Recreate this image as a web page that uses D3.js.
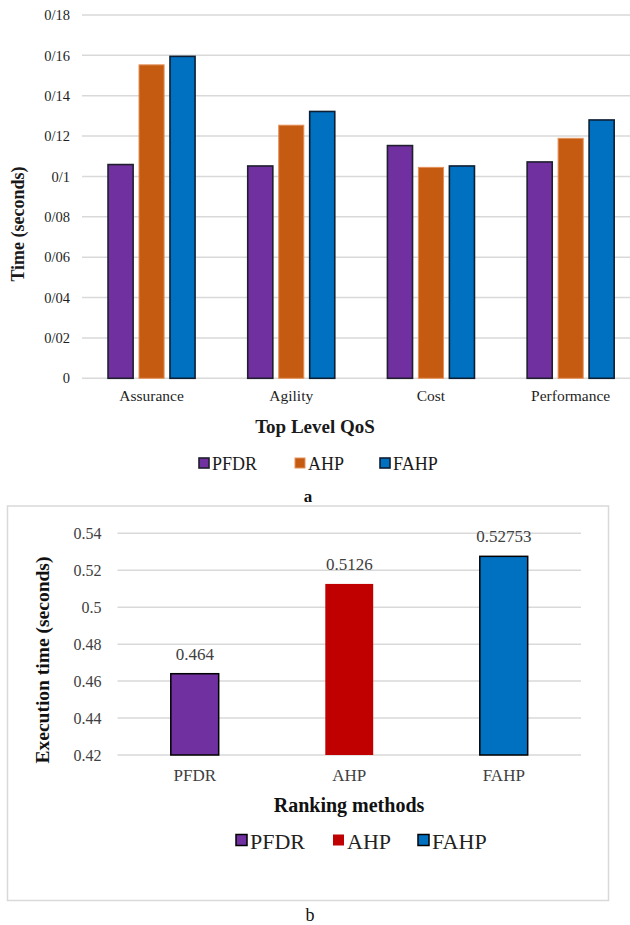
<!DOCTYPE html>
<html>
<head>
<meta charset="utf-8">
<script src="https://cdn.jsdelivr.net/npm/d3@7"></script>
<style>
  html, body { margin: 0; padding: 0; background: #fff; }
  svg { display: block; }
  svg text { font-family: "Liberation Serif", Tinos, "Times New Roman", Times, "DejaVu Serif", serif !important; }
</style>
</head>
<body>
<svg id="chart" width="630" height="925"></svg>
<script>
// ---- Panel a: time per top-level QoS attribute ----
const qosCategories = ["Assurance", "Agility", "Cost", "Performance"];
const methodsA = ["PFDR", "AHP", "FAHP"];
const pfdrTimes = [0.1059, 0.1052, 0.1153, 0.1072];
const ahpTimes = [0.1553, 0.1254, 0.1045, 0.1189];
const fahpTimes = [0.1595, 0.1322, 0.1052, 0.1280];
const tickValuesA = [0, 0.02, 0.04, 0.06, 0.08, 0.1, 0.12, 0.14, 0.16, 0.18];
const tickLabelsA = ["0", "0/02", "0/04", "0/06", "0/08", "0/1", "0/12", "0/14", "0/16", "0/18"];

// ---- Panel b: total execution time per ranking method ----
const rankingMethods = ["PFDR", "AHP", "FAHP"];
const executionTimes = [0.464, 0.5126, 0.52753];
const valueLabelsB = ["0.464", "0.5126", "0.52753"];
const tickValuesB = [0.42, 0.44, 0.46, 0.48, 0.5, 0.52, 0.54];
const tickLabelsB = ["0.42", "0.44", "0.46", "0.48", "0.5", "0.52", "0.54"];

const SERIF = "Liberation Serif, Tinos, Times New Roman, Times, DejaVu Serif, serif";
const svg = d3.select("#chart");
const grid = "#d9d9d9";

// ================= Panel a =================
const seriesA = [pfdrTimes, ahpTimes, fahpTimes];
const fillA = d3.scaleOrdinal(methodsA, ["#7030A0", "#C55A11", "#0070C0"]);
const strokeA = d3.scaleOrdinal(methodsA, ["#1f1f2e", "#E3915A", "#0d1f33"]);
const strokeWA = d3.scaleOrdinal(methodsA, [1.6, 1, 1.6]);

const yA = d3.scaleLinear().domain([0, 0.18]).range([378.3, 15]);
const x0A = d3.scaleBand().domain(qosCategories).range([81.7, 640.5])
  .paddingInner(0.377).paddingOuter(0.1885);
const x1A = d3.scaleBand().domain(methodsA).range([0, x0A.bandwidth()]).paddingInner(0.19);

const gA = svg.append("g").attr("font-family", SERIF);

// horizontal gridlines
gA.append("g").selectAll("line").data(tickValuesA).join("line")
  .attr("x1", 82).attr("x2", 630)
  .attr("y1", d => yA(d)).attr("y2", d => yA(d))
  .attr("stroke", grid).attr("stroke-width", 1.5);

// tick labels
const axisA = d3.axisLeft(yA).tickValues(tickValuesA)
  .tickFormat((d, i) => tickLabelsA[i]).tickSize(0).tickPadding(12);
const axA = gA.append("g").attr("transform", "translate(82,0)").call(axisA)
  .attr("font-family", SERIF);
axA.select(".domain").remove();
axA.selectAll("text").attr("font-size", 14.5).attr("fill", "#1f1f1f");

// grouped bars
const groups = gA.append("g").selectAll("g").data(qosCategories).join("g")
  .attr("transform", d => `translate(${x0A(d)},0)`);
groups.selectAll("rect")
  .data((c, ci) => methodsA.map((m, mi) => ({ m, v: seriesA[mi][ci] })))
  .join("rect")
  .attr("x", d => x1A(d.m))
  .attr("y", d => yA(d.v))
  .attr("width", x1A.bandwidth())
  .attr("height", d => yA(0) - yA(d.v))
  .attr("fill", d => fillA(d.m))
  .attr("stroke", d => strokeA(d.m))
  .attr("stroke-width", d => strokeWA(d.m));

// category labels
const xAxisA = d3.axisBottom(x0A).tickSize(0).tickPadding(12);
const axXA = gA.append("g").attr("transform", "translate(0,378.3)").call(xAxisA)
  .attr("font-family", SERIF);
axXA.select(".domain").remove();
axXA.selectAll("text").attr("font-size", 15.5).attr("fill", "#1f1f1f");

// axis titles
gA.append("text").attr("x", 315).attr("y", 433)
  .attr("text-anchor", "middle").attr("font-weight", "bold").attr("font-size", 19)
  .attr("fill", "#1a1a1a").text("Top Level QoS");
gA.append("text").attr("transform", "translate(24,224) rotate(-90)")
  .attr("text-anchor", "middle").attr("font-weight", "bold").attr("font-size", 18)
  .attr("fill", "#1a1a1a").text("Time (seconds)");

// legend
const legendPosA = [199, 295, 380];
methodsA.forEach((m, i) => {
  const lg = gA.append("g").attr("transform", `translate(${legendPosA[i]},458)`);
  lg.append("rect").attr("width", 10).attr("height", 10)
    .attr("fill", fillA(m)).attr("stroke", strokeA(m)).attr("stroke-width", strokeWA(m));
  lg.append("text").attr("x", 13).attr("y", 11.5).attr("font-size", 18)
    .attr("fill", "#1a1a1a").text(m);
});

gA.append("text").attr("x", 308).attr("y", 502).attr("text-anchor", "middle")
  .attr("font-weight", "bold").attr("font-size", 17).attr("fill", "#111").text("a");

// ================= Panel b =================
const gB = svg.append("g").attr("font-family", SERIF);
const fillB = d3.scaleOrdinal(rankingMethods, ["#7030A0", "#C00000", "#0070C0"]);
const strokeB = d3.scaleOrdinal(rankingMethods, ["#000", "none", "#000"]);

// frame
gB.append("rect").attr("x", 7.5).attr("y", 506).attr("width", 601).attr("height", 394.5)
  .attr("fill", "none").attr("stroke", grid).attr("stroke-width", 1.5);

const yB = d3.scaleLinear().domain([0.42, 0.54]).range([755, 533.3]);
const xB = d3.scaleBand().domain(rankingMethods).range([117.5, 581])
  .paddingInner(0.69).paddingOuter(0.345);

gB.append("g").selectAll("line").data(tickValuesB).join("line")
  .attr("x1", 117.5).attr("x2", 581)
  .attr("y1", d => yB(d)).attr("y2", d => yB(d))
  .attr("stroke", grid).attr("stroke-width", 1.5);

const axisB = d3.axisLeft(yB).tickValues(tickValuesB)
  .tickFormat((d, i) => tickLabelsB[i]).tickSize(0).tickPadding(16);
const axB = gB.append("g").attr("transform", "translate(117.5,0)").call(axisB)
  .attr("font-family", SERIF);
axB.select(".domain").remove();
axB.selectAll("text").attr("font-size", 16).attr("fill", "#404040");

gB.append("g").selectAll("rect").data(rankingMethods).join("rect")
  .attr("x", d => xB(d))
  .attr("y", (d, i) => yB(executionTimes[i]))
  .attr("width", xB.bandwidth())
  .attr("height", (d, i) => yB(0.42) - yB(executionTimes[i]))
  .attr("fill", d => fillB(d))
  .attr("stroke", d => strokeB(d))
  .attr("stroke-width", 1.5);

gB.append("g").selectAll("text").data(rankingMethods).join("text")
  .attr("x", d => xB(d) + xB.bandwidth() / 2)
  .attr("y", (d, i) => yB(executionTimes[i]) - 14)
  .attr("text-anchor", "middle").attr("font-size", 17).attr("fill", "#404040")
  .text((d, i) => valueLabelsB[i]);

const xAxisB = d3.axisBottom(xB).tickSize(0).tickPadding(14);
const axXB = gB.append("g").attr("transform", "translate(0,755)").call(xAxisB)
  .attr("font-family", SERIF);
axXB.select(".domain").remove();
axXB.selectAll("text").attr("font-size", 17).attr("fill", "#404040");

gB.append("text").attr("x", 349).attr("y", 812).attr("text-anchor", "middle")
  .attr("font-weight", "bold").attr("font-size", 20).attr("fill", "#111")
  .text("Ranking methods");
gB.append("text").attr("transform", "translate(49,660) rotate(-90)")
  .attr("text-anchor", "middle").attr("font-weight", "bold").attr("font-size", 19.5)
  .attr("fill", "#111").text("Execution time (seconds)");

const legendPosB = [236, 333, 418];
rankingMethods.forEach((m, i) => {
  const lg = gB.append("g").attr("transform", `translate(${legendPosB[i]},834.5)`);
  lg.append("rect").attr("width", 11).attr("height", 11)
    .attr("fill", fillB(m)).attr("stroke", strokeB(m)).attr("stroke-width", 1.5);
  lg.append("text").attr("x", 14).attr("y", 14).attr("font-size", 22)
    .attr("fill", "#222").text(m);
});

gB.append("text").attr("x", 310).attr("y", 921).attr("text-anchor", "middle")
  .attr("font-size", 18).attr("fill", "#111").text("b");
</script>
</body>
</html>
